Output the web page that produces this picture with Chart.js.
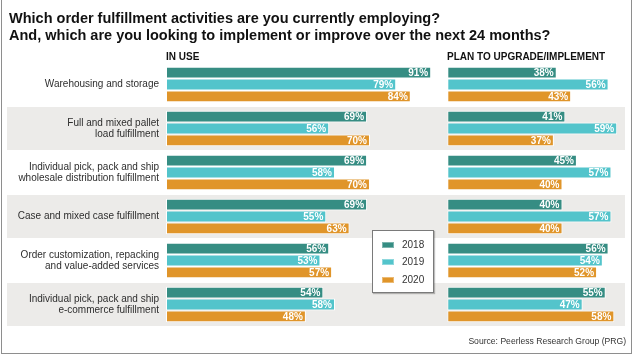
<!DOCTYPE html>
<html>
<head>
<meta charset="utf-8">
<script src="https://cdn.jsdelivr.net/npm/chart.js@4.4.0/dist/chart.umd.min.js"></script>
<style>
  html, body { margin:0; padding:0; background:#fff; }
  body { width:632px; height:355px; position:relative; overflow:hidden; font-family:"Liberation Sans", Arial, sans-serif; }
  canvas { position:absolute; left:0; top:0; }
  #frame { position:absolute; left:1px; top:-5px; width:631px; height:359px; box-sizing:border-box; border:1.5px solid #8e8e8e; pointer-events:none; }
  #title { position:absolute; left:9px; top:10px; font-weight:bold; font-size:14.5px; line-height:17px; color:#111; white-space:nowrap; }
  .hdr { position:absolute; top:51px; font-weight:bold; font-size:10px; line-height:12px; color:#111; white-space:nowrap; }
  #legend { position:absolute; left:372px; top:230px; width:62px; height:63px; box-sizing:border-box; border:1px solid #7a7a7a; background:#fff; box-shadow:1px 1px 1px rgba(0,0,0,0.25); }
  .li { position:absolute; left:9px; font-size:10px; line-height:12px; color:#333; }
  .sw { position:absolute; left:0; top:3px; width:12px; height:6px; box-sizing:border-box; border:1px solid rgba(255,255,255,0.35); }
  .lt { position:absolute; left:20px; top:0; }
  #source { position:absolute; right:6px; top:336px; font-size:8.6px; line-height:11px; color:#333; white-space:nowrap; }
</style>
</head>
<body>
<canvas id="cLeft" width="632" height="355"></canvas>
<canvas id="cRight" width="632" height="355"></canvas>
<div id="title">Which order fulfillment activities are you currently employing?<br>And, which are you looking to implement or improve over the next 24 months?</div>
<div class="hdr" style="left:166px">IN USE</div>
<div class="hdr" style="left:447px">PLAN TO UPGRADE/IMPLEMENT</div>
<div id="legend"></div>
<div id="source">Source: Peerless Research Group (PRG)</div>
<div id="frame"></div>
<script>
const categories = [
  "Warehousing and storage",
  ["Full and mixed pallet", "load fulfillment"],
  ["Individual pick, pack and ship", "wholesale distribution fulfillment"],
  "Case and mixed case fulfillment",
  ["Order customization, repacking", "and value-added services"],
  ["Individual pick, pack and ship", "e-commerce fulfillment"]
];
const years = ["2018", "2019", "2020"];
const inUse2018 = [91, 69, 69, 69, 56, 54];
const inUse2019 = [79, 56, 58, 55, 53, 58];
const inUse2020 = [84, 70, 70, 63, 57, 48];
const plan2018 = [38, 41, 45, 40, 56, 55];
const plan2019 = [56, 59, 57, 57, 54, 47];
const plan2020 = [43, 37, 40, 40, 52, 58];

const colors = ["#368d83", "#53c4cb", "#e0952a"];
const FONT = '"Liberation Sans", Arial, sans-serif';

const bandPlugin = {
  id: 'bands',
  beforeDraw(chart, args, opts) {
    if (!opts.draw) return;
    const ctx = chart.ctx, y = chart.scales.y;
    const step = (y.getPixelForValue(1) - y.getPixelForValue(0));
    ctx.save();
    ctx.fillStyle = '#ecebe9';
    for (let i = 1; i < categories.length; i += 2) {
      const c = y.getPixelForValue(i);
      ctx.fillRect(7, c - step / 2 + 0.5, 618, step - 1);
    }
    ctx.restore();
  }
};

const valuePlugin = {
  id: 'values',
  afterDatasetsDraw(chart) {
    const ctx = chart.ctx;
    ctx.save();
    ctx.font = 'bold 10px ' + FONT;
    ctx.fillStyle = '#fff';
    ctx.textAlign = 'right';
    ctx.textBaseline = 'middle';
    chart.data.datasets.forEach((ds, di) => {
      chart.getDatasetMeta(di).data.forEach((el, i) => {
        ctx.fillText(ds.data[i] + '%', el.x - 3, el.y + 0.5);
      });
    });
    ctx.restore();
  }
};

function makeDatasets(a, b, c) {
  return [a, b, c].map((d, i) => ({
    label: years[i],
    data: d,
    backgroundColor: colors[i],
    borderColor: '#ffffff',
    borderWidth: 1,
    borderSkipped: false,
    categoryPercentage: 0.81,
    barPercentage: 1.0
  }));
}

function makeChart(id, datasets, showY, padLeft, padRight, xmax) {
  return new Chart(document.getElementById(id), {
    type: 'bar',
    data: { labels: categories, datasets: datasets },
    options: {
      indexAxis: 'y',
      responsive: false,
      animation: false,
      devicePixelRatio: 1,
      layout: { padding: { left: padLeft, right: padRight, top: 62.5, bottom: 28.5 } },
      plugins: {
        legend: { display: false },
        tooltip: { enabled: false },
        bands: { draw: showY }
      },
      scales: {
        x: { display: false, min: 0, max: xmax },
        y: {
          display: showY,
          grid: { display: false, drawTicks: false },
          border: { display: false },
          ticks: { color: '#2e2e2e', padding: 7, font: { family: FONT, size: 10, lineHeight: 1.1 } },
          afterFit(scale) { if (showY) scale.width = 166; }
        }
      }
    },
    plugins: [bandPlugin, valuePlugin]
  });
}

// left chart: 0..100 over 291.4px starting at x=166
makeChart('cLeft', makeDatasets(inUse2018, inUse2019, inUse2020), true, 0, 632 - 166 - 291.4, 100);
// right chart: 0..60 over 172.8px starting at x=447.3
makeChart('cRight', makeDatasets(plan2018, plan2019, plan2020), false, 447.3, 632 - 447.3 - 172.8, 60);

// legend
const lg = document.getElementById('legend');
years.forEach((yr, i) => {
  const d = document.createElement('div');
  d.className = 'li';
  d.style.top = (8 + i * 17.3) + 'px';
  d.innerHTML = '<div class="sw" style="background:' + colors[i] + '"></div><span class="lt">' + yr + '</span>';
  lg.appendChild(d);
});
</script>
</body>
</html>
